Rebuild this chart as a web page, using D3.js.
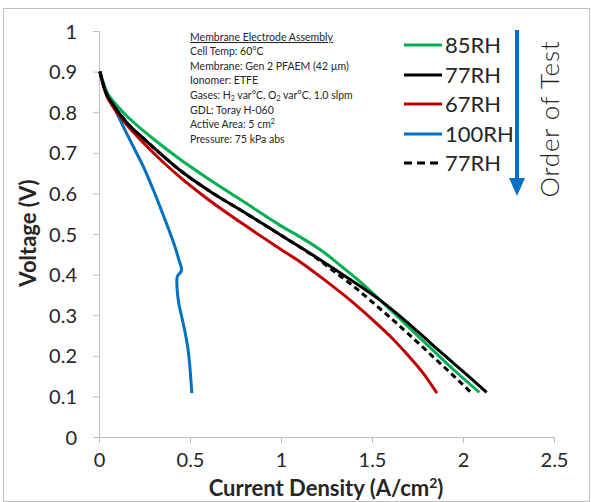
<!DOCTYPE html>
<html><head><meta charset="utf-8">
<script src="https://cdn.jsdelivr.net/npm/d3@7"></script>
<style>
body{margin:0;background:#fff;}
svg{display:block;font-family:Lato,"Open Sans",sans-serif;}
</style></head>
<body><svg id="c" width="591" height="502"></svg>
<script>
const xTicks=[0,0.5,1,1.5,2,2.5];
const yTicks=[0,0.1,0.2,0.3,0.4,0.5,0.6,0.7,0.8,0.9,1];
const xTickLabels=["0","0.5","1","1.5","2","2.5"];
const yTickLabels=["0","0.1","0.2","0.3","0.4","0.5","0.6","0.7","0.8","0.9","1"];

const rh85I=[0.005,0.03,0.088,0.15,0.25,0.35,0.445,0.6,0.8,1.0,1.1,1.2,1.25,1.3,1.42,1.505,1.6,1.7,1.82,1.95,2.09];
const rh85V=[0.90,0.862,0.822,0.792,0.752,0.716,0.684,0.636,0.578,0.52,0.494,0.466,0.45,0.432,0.388,0.354,0.314,0.271,0.22,0.165,0.11];

const rh77I=[0.005,0.03,0.088,0.15,0.25,0.35,0.445,0.6,0.8,1.0,1.1,1.2,1.38,1.544,1.7,1.82,1.95,2.05,2.13];
const rh77V=[0.90,0.858,0.812,0.776,0.733,0.693,0.657,0.608,0.553,0.497,0.469,0.441,0.388,0.337,0.28,0.232,0.181,0.142,0.11];

const rh67I=[0.005,0.03,0.088,0.15,0.25,0.35,0.445,0.6,0.8,1.0,1.1,1.23,1.38,1.544,1.6,1.69,1.78,1.857];
const rh67V=[0.90,0.855,0.806,0.77,0.722,0.678,0.64,0.585,0.522,0.462,0.433,0.39,0.337,0.272,0.248,0.205,0.158,0.108];

const rh100I=[0.005,0.04,0.09,0.143,0.2,0.25,0.3,0.35,0.39,0.42,0.44,0.452,0.452,0.44,0.43,0.428,0.432,0.44,0.455,0.472,0.488,0.498,0.505,0.51];
const rh100V=[0.90,0.852,0.805,0.756,0.705,0.66,0.607,0.55,0.503,0.465,0.435,0.418,0.408,0.402,0.395,0.375,0.35,0.325,0.295,0.26,0.22,0.18,0.14,0.108];

const rh77bI=[0.005,0.03,0.088,0.15,0.25,0.35,0.445,0.6,0.8,1.0,1.1,1.2,1.3,1.38,1.5,1.58,1.7,1.82,1.95,2.04];
const rh77bV=[0.90,0.858,0.812,0.776,0.733,0.693,0.657,0.608,0.553,0.497,0.469,0.439,0.405,0.378,0.333,0.302,0.254,0.204,0.15,0.111];

const seriesNames=["85RH","77RH","67RH","100RH","77RH"];
const seriesColors=["#00b050","#000000","#c00000","#0070c0","#000000"];
const seriesDash=[null,null,null,null,"6,4"];
const seriesI=[rh85I,rh77I,rh67I,rh100I,rh77bI];
const seriesV=[rh85V,rh77V,rh67V,rh100V,rh77bV];
const drawOrder=[3,2,0,4,1];

const notes=["Cell Temp: 60°C","Membrane: Gen 2 PFAEM (42 µm)","Ionomer: ETFE",null,"GDL: Toray H-060",null,"Pressure: 75 kPa abs"];

const svg=d3.select("#c");
svg.append("rect").attr("x",3.5).attr("y",8.5).attr("width",586).attr("height",493).attr("fill","none").attr("stroke","#bfbfbf");

const x=d3.scaleLinear().domain([0,2.5]).range([99,554]);
const y=d3.scaleLinear().domain([0,1]).range([437,31]);

const gx=svg.append("g").attr("transform","translate(0,437)")
  .call(d3.axisBottom(x).tickValues(xTicks).tickFormat((d,i)=>xTickLabels[i]).tickSize(6).tickPadding(10));
const gy=svg.append("g").attr("transform","translate(99,0)")
  .call(d3.axisLeft(y).tickValues(yTicks).tickFormat((d,i)=>yTickLabels[i]).tickSize(6).tickPadding(16));
[gx,gy].forEach(g=>{
  g.select(".domain").attr("stroke","#bfbfbf");
  g.selectAll(".tick line").attr("stroke","#bfbfbf");
  g.selectAll(".tick text").attr("font-size",20).attr("fill","#262626").attr("font-family","Lato");
});
gx.selectAll(".tick text").attr("dy","0.71em");
gy.selectAll(".tick text").attr("dy","0.35em");

const lineM=d3.line().x(d=>x(d[0])).y(d=>y(d[1])).curve(d3.curveMonotoneX);
const lineC=d3.line().x(d=>x(d[0])).y(d=>y(d[1])).curve(d3.curveCatmullRom.alpha(0.5));
drawOrder.forEach(k=>{
  const pts=seriesI[k].map((v,i)=>[v,seriesV[k][i]]);
  const gen=(k===3)?lineC:lineM;
  svg.append("path").attr("d",gen(pts)).attr("fill","none")
    .attr("stroke",seriesColors[k]).attr("stroke-width",3)
    .attr("stroke-dasharray",seriesDash[k]).attr("stroke-linejoin","round");
});

// axis titles
svg.append("text").attr("x",326).attr("y",496).attr("text-anchor","middle")
  .attr("font-size",22).attr("font-weight","bold").attr("fill","#262626")
  .html('Current Density (A/cm<tspan baseline-shift="super" font-size="14">2</tspan>)');
svg.append("text").attr("transform","translate(36,233) rotate(-90)").attr("text-anchor","middle")
  .attr("font-size",22).attr("font-weight","bold").attr("fill","#262626").text("Voltage (V)");

// notes
const nt=svg.append("g").attr("font-size",10.5).attr("fill","#262626");
nt.append("text").attr("x",190).attr("y",41).attr("text-decoration","underline").text("Membrane Electrode Assembly");
const baseY=[55,70,84,99,114,128,143];
notes.forEach((t,i)=>{
  if(t) nt.append("text").attr("x",190).attr("y",baseY[i]).text(t);
});
nt.append("text").attr("x",190).attr("y",99)
  .html('Gases: H<tspan font-size="7" dy="2">2</tspan><tspan dy="-2"> var°C, O</tspan><tspan font-size="7" dy="2">2</tspan><tspan dy="-2"> var°C, 1.0 slpm</tspan>');
nt.append("text").attr("x",190).attr("y",128)
  .html('Active Area: 5 cm<tspan font-size="7" dy="-4">2</tspan>');

// legend
const legY=[45,75,104,134,163];
seriesNames.forEach((n,i)=>{
  svg.append("line").attr("x1",404).attr("x2",442).attr("y1",legY[i]).attr("y2",legY[i])
    .attr("stroke",seriesColors[i]).attr("stroke-width",3).attr("stroke-dasharray",seriesDash[i]?"8,5":null);
  svg.append("text").attr("x",445).attr("y",legY[i]+8).attr("font-size",22).attr("fill","#262626").text(n);
});

// arrow
svg.append("line").attr("x1",517).attr("x2",517).attr("y1",30).attr("y2",180)
  .attr("stroke","#0070c0").attr("stroke-width",4);
svg.append("path").attr("d","M509,178 L525,178 L517,196 Z").attr("fill","#0070c0");
svg.append("text").attr("transform","translate(559,119) rotate(-90)").attr("text-anchor","middle")
  .attr("font-size",26).attr("font-weight",300).attr("letter-spacing",0.8).attr("fill","#262626").text("Order of Test");
</script></body></html>
